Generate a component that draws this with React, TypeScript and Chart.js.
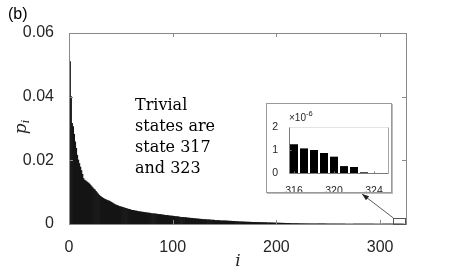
import React, { useEffect, useRef } from "react";
import { Chart, registerables } from "chart.js";
Chart.register(...registerables);

// p_i for states i = 1..323 (sorted)
const probabilities = [
  0.0510, 0.0400, 0.0316, 0.0306, 0.0282, 0.0258, 0.0238, 0.0216, 0.0201, 0.0190,
  0.0179, 0.0168, 0.0156, 0.0143, 0.0138, 0.0136, 0.0133, 0.0131, 0.0128, 0.0125,
  0.0121, 0.0117, 0.0114, 0.0110, 0.0107, 0.0103, 0.0099, 0.0095, 0.0091, 0.0088,
  0.0085, 0.0083, 0.0081, 0.0079, 0.0077, 0.0076, 0.0074, 0.0073, 0.0072, 0.0070,
  0.0068, 0.0066, 0.0064, 0.0062, 0.0060, 0.0059, 0.0058, 0.0056, 0.0055, 0.0054,
  0.0053, 0.0052, 0.0051, 0.0050, 0.0049, 0.0048, 0.0047, 0.0046, 0.0045, 0.0044,
  0.0043, 0.0043, 0.0042, 0.0041, 0.0041, 0.0040, 0.0039, 0.0039, 0.0038, 0.0038,
  0.0037, 0.0037, 0.0036, 0.0036, 0.0035, 0.0035, 0.0034, 0.0034, 0.0033, 0.0033,
  0.0032, 0.0032, 0.0032, 0.0031, 0.0031, 0.0030, 0.0030, 0.0030, 0.0029, 0.0029,
  0.0028, 0.0028, 0.0027, 0.0027, 0.0027, 0.0026, 0.0026, 0.0025, 0.0025, 0.0025,
  0.0024, 0.0024, 0.0023, 0.0023, 0.0023, 0.0022, 0.0022, 0.0021, 0.0021, 0.0021,
  0.0020, 0.0020, 0.0020, 0.0019, 0.0019, 0.0019, 0.0018, 0.0018, 0.0018, 0.0017,
  0.0017, 0.0017, 0.0016, 0.0016, 0.0016, 0.0015, 0.0015, 0.0015, 0.0014, 0.0014,
  0.0014, 0.0014, 0.0013, 0.0013, 0.0013, 0.0013, 0.0012, 0.0012, 0.0012, 0.0012,
  0.0011, 0.0011, 0.0011, 0.0011, 0.0011, 0.0010, 0.0010, 0.0010, 0.0010, 0.0010,
  0.00098, 0.00096, 0.00095, 0.00092, 0.00090, 0.00089, 0.00086, 0.00084, 0.00083, 0.00080,
  0.00078, 0.00077, 0.00074, 0.00072, 0.00071, 0.00069, 0.00068, 0.00066, 0.00064, 0.00063,
  0.00061, 0.00060, 0.00059, 0.00058, 0.00056, 0.00055, 0.00054, 0.00053, 0.00052, 0.00051,
  0.00050, 0.00049, 0.00048, 0.00047, 0.00046, 0.00045, 0.00044, 0.00043, 0.00042, 0.00041,
  0.00040, 0.00039, 0.00038, 0.00037, 0.00036, 0.00035, 0.00034, 0.00033, 0.00032, 0.00031,
  0.00030, 0.00029, 0.00028, 0.00027, 0.00026, 0.00025, 0.00024, 0.00023, 0.00022, 0.00021,
  0.00020, 0.00019, 0.00018, 0.00017, 0.00016, 0.00015, 0.00014, 0.00013, 0.00012, 0.00011,
  0.00010, 0.000095, 0.000091, 0.000085, 0.000080, 0.000076, 0.000070, 0.000066, 0.000062, 0.000058,
  0.000055, 0.000052, 0.000049, 0.000046, 0.000044, 0.000042, 0.000040, 0.000038, 0.000036, 0.000034,
  0.000032, 0.000030, 0.000029, 0.000028, 0.000026, 0.000025, 0.000024, 0.000023, 0.000022, 0.000021,
  0.000020, 0.000019, 0.000018, 0.000017, 0.000016, 0.000016, 0.000015, 0.000014, 0.000014, 0.000013,
  0.000013, 0.000012, 0.000012, 0.000011, 0.000011, 0.000010, 0.000010, 0.0000095, 0.0000090, 0.0000085,
  0.0000080, 0.0000076, 0.0000072, 0.0000068, 0.0000065, 0.0000062, 0.0000059, 0.0000056, 0.0000053, 0.0000050,
  0.0000048, 0.0000046, 0.0000044, 0.0000042, 0.0000040, 0.0000038, 0.0000036, 0.0000034, 0.0000033, 0.0000032,
  0.0000031, 0.0000030, 0.0000029, 0.0000028, 0.0000027, 0.0000026, 0.0000025, 0.0000024, 0.0000023, 0.0000022,
  0.0000021, 0.0000020, 0.0000019, 0.0000018, 0.0000017, 0.0000017, 0.0000016, 0.0000016, 0.0000015, 0.0000015,
  0.0000014, 0.0000014, 0.0000013, 0.0000013, 0.0000013,
  0.00000125, 0.00000107, 0.00000100, 0.00000087, 0.00000071, 0.00000030, 0.00000026, 0.00000003,
];
const stateIndex = probabilities.map((_, k) => k + 1);

const xTicks = [0, 100, 200, 300];
const yTicks = [0, 0.02, 0.04, 0.06];

// inset (values in units of 1e-6)
const insetStates = [316, 317, 318, 319, 320, 321, 322, 323];
const insetValues = [1.25, 1.07, 1.0, 0.87, 0.71, 0.3, 0.26, 0.03];
const insetXTicks = [316, 320, 324];
const insetYTicks = [0, 1, 2];

// zoom window marked on the main axes
const zoomBox = { x0: 312.5, x1: 324, y0: 0, y1: 0.002 };

const TICK_FONT = "'Liberation Sans', Arial, sans-serif";
const TICK_COLOR = "#262626";

const mainFrame = {
  id: "mainFrame",
  afterDraw(chart: any) {
    const { ctx, chartArea: a, scales } = chart;
    const x = scales.x, y = scales.y;
    ctx.save();
    ctx.lineWidth = 1;
    ctx.strokeStyle = "#8a8a8a";
    ctx.strokeRect(Math.round(a.left) + 0.5, Math.round(a.top) + 0.5, Math.round(a.right - a.left), Math.round(a.bottom - a.top));
    ctx.beginPath();
    for (const v of xTicks.slice(1)) {
      const px = Math.round(x.getPixelForValue(v)) + 0.5;
      ctx.moveTo(px, a.bottom); ctx.lineTo(px, a.bottom - 4);
      ctx.moveTo(px, a.top); ctx.lineTo(px, a.top + 4);
    }
    for (const v of yTicks.slice(1, -1)) {
      const py = Math.round(y.getPixelForValue(v)) + 0.5;
      ctx.moveTo(a.left, py); ctx.lineTo(a.left + 4, py);
      ctx.moveTo(a.right, py); ctx.lineTo(a.right - 4, py);
    }
    ctx.stroke();
    // zoom rectangle
    const rx0 = x.getPixelForValue(zoomBox.x0), rx1 = x.getPixelForValue(zoomBox.x1);
    const ry0 = y.getPixelForValue(zoomBox.y1), ry1 = y.getPixelForValue(zoomBox.y0);
    ctx.strokeStyle = "#555";
    ctx.strokeRect(Math.round(rx0) + 0.5, Math.round(ry0) + 0.5, Math.round(rx1 - rx0), Math.round(ry1 - ry0));
    // arrow to inset
    const sx = rx0 + 0.5, sy = ry0 + 0.5;
    const ex = 362, ey = 194;
    ctx.strokeStyle = "#333";
    ctx.lineWidth = 0.8;
    ctx.beginPath(); ctx.moveTo(sx, sy); ctx.lineTo(ex, ey); ctx.stroke();
    const ang = Math.atan2(ey - sy, ex - sx);
    const L = 7, W = 2.6;
    ctx.fillStyle = "#222";
    ctx.beginPath();
    ctx.moveTo(ex, ey);
    ctx.lineTo(ex - L * Math.cos(ang) + W * Math.sin(ang), ey - L * Math.sin(ang) - W * Math.cos(ang));
    ctx.lineTo(ex - L * Math.cos(ang) - W * Math.sin(ang), ey - L * Math.sin(ang) + W * Math.cos(ang));
    ctx.closePath(); ctx.fill();
    ctx.restore();
  },
};

const insetFrame = {
  id: "insetFrame",
  afterDraw(chart: any) {
    const { ctx, chartArea: a, scales } = chart;
    const x = scales.x, y = scales.y;
    ctx.save();
    ctx.lineWidth = 1;
    const L = Math.round(a.left) + 0.5, R = Math.round(a.right) - 0.5;
    const T = Math.round(a.top) + 0.5, B = Math.round(a.bottom) + 0.5;
    ctx.strokeStyle = "#e4e4e4";
    ctx.beginPath(); ctx.moveTo(L, T); ctx.lineTo(R, T); ctx.stroke();
    ctx.strokeStyle = "#a8a8a8";
    ctx.beginPath(); ctx.moveTo(R, T); ctx.lineTo(R, B); ctx.stroke();
    ctx.strokeStyle = "#7a7a7a";
    ctx.beginPath(); ctx.moveTo(L, T); ctx.lineTo(L, B); ctx.lineTo(R, B); ctx.stroke();
    ctx.beginPath();
    for (const v of insetXTicks) {
      const px = Math.round(x.getPixelForValue(v)) + 0.5;
      ctx.moveTo(px, B); ctx.lineTo(px, B - 2);
    }
    for (const v of insetYTicks.slice(1, -1)) {
      const py = Math.round(y.getPixelForValue(v)) + 0.5;
      ctx.moveTo(L, py); ctx.lineTo(L + 2, py);
    }
    ctx.stroke();
    // exponent label
    ctx.fillStyle = TICK_COLOR;
    ctx.textBaseline = "middle";
    ctx.textAlign = "left";
    ctx.font = `10px ${TICK_FONT}`;
    const base = "\u00d710";
    ctx.fillText(base, a.left, a.top - 9);
    const w = ctx.measureText(base).width;
    ctx.font = `7.5px ${TICK_FONT}`;
    ctx.fillText("-6", a.left + w, a.top - 13);
    ctx.restore();
  },
};

export default function App() {
  const mainRef = useRef<HTMLCanvasElement>(null);
  const insetRef = useRef<HTMLCanvasElement>(null);

  useEffect(() => {
    const main = new Chart(mainRef.current!, {
      type: "bar",
      data: {
        datasets: [
          {
            data: stateIndex.map((i, k) => ({ x: i, y: probabilities[k] })),
            backgroundColor: "#151515",
            borderWidth: 0,
            categoryPercentage: 1,
            barPercentage: 1,
          },
        ],
      },
      options: {
        animation: false,
        responsive: false,
        maintainAspectRatio: false,
        layout: { padding: { left: 0, right: 56, top: 33, bottom: 0 } },
        plugins: { legend: { display: false }, tooltip: { enabled: false } },
        scales: {
          x: {
            type: "linear",
            min: 0,
            max: 325,
            offset: false,
            grid: { display: false },
            border: { display: false },
            afterBuildTicks: (s: any) => { s.ticks = xTicks.map((v) => ({ value: v })); },
            ticks: {
              padding: 6,
              color: TICK_COLOR,
              font: { family: TICK_FONT, size: 16 },
              maxRotation: 0,
              autoSkip: false,
              callback: (v: any) => String(v),
            },
            afterFit: (s: any) => { s.height = 49; },
          },
          y: {
            min: 0,
            max: 0.06,
            grid: { display: false },
            border: { display: false },
            afterBuildTicks: (s: any) => { s.ticks = yTicks.map((v) => ({ value: v })); },
            ticks: {
              padding: 7,
              color: TICK_COLOR,
              font: { family: TICK_FONT, size: 16 },
              callback: (v: any) => (Number(v) === 0 ? "0" : Number(v).toFixed(2)),
            },
            afterFit: (s: any) => { s.width = 69; },
          },
        },
      },
      plugins: [mainFrame],
    } as any);

    const inset = new Chart(insetRef.current!, {
      type: "bar",
      data: {
        datasets: [
          {
            data: insetStates.map((s, k) => ({ x: s, y: insetValues[k] })),
            backgroundColor: "#000",
            borderWidth: 0,
            categoryPercentage: 1,
            barPercentage: 0.8,
          },
        ],
      },
      options: {
        animation: false,
        responsive: false,
        maintainAspectRatio: false,
        layout: { padding: { left: 0, right: 2, top: 23, bottom: 0 } },
        plugins: { legend: { display: false }, tooltip: { enabled: false } },
        scales: {
          x: {
            type: "linear",
            min: 315.5,
            max: 325.5,
            offset: false,
            grid: { display: false },
            border: { display: false },
            afterBuildTicks: (s: any) => { s.ticks = insetXTicks.map((v) => ({ value: v })); },
            ticks: {
              padding: 4,
              color: TICK_COLOR,
              font: { family: TICK_FONT, size: 10.5 },
              maxRotation: 0,
              autoSkip: false,
              callback: (v: any) => String(v),
            },
            afterFit: (s: any) => { s.height = 19; },
          },
          y: {
            min: 0,
            max: 2,
            grid: { display: false },
            border: { display: false },
            afterBuildTicks: (s: any) => { s.ticks = insetYTicks.map((v) => ({ value: v })); },
            ticks: {
              padding: 3,
              color: TICK_COLOR,
              font: { family: TICK_FONT, size: 10.5 },
              callback: (v: any) => String(v),
            },
            afterFit: (s: any) => { s.width = 22; },
          },
        },
      },
      plugins: [insetFrame],
    } as any);

    return () => {
      main.destroy();
      inset.destroy();
    };
  }, []);

  const serif = "'DejaVu Serif', 'Liberation Serif', serif";

  return (
    <div style={{ position: "absolute", left: 0, top: 0, width: 462, height: 273, background: "#fff", overflow: "hidden" }}>
      <canvas ref={mainRef} width={462} height={273} style={{ position: "absolute", left: 0, top: 0 }} />
      <div
        style={{
          position: "absolute", left: 8, top: 5, fontFamily: TICK_FONT, fontSize: 16, lineHeight: "18px", color: "#000",
        }}
      >
        (b)
      </div>
      <div
        style={{
          position: "absolute", left: 5, top: 116, width: 30, height: 22, lineHeight: "22px", textAlign: "center",
          transform: "rotate(-90deg)", fontFamily: serif, fontSize: 17, color: "#262626", whiteSpace: "nowrap",
        }}
      >
        <i>p</i>
        <i style={{ fontSize: 11, verticalAlign: -3 }}>i</i>
      </div>
      <div
        style={{
          position: "absolute", left: 228, top: 249, width: 20, height: 22, lineHeight: "22px", textAlign: "center",
          fontFamily: serif, fontStyle: "italic", fontSize: 17, color: "#262626",
        }}
      >
        i
      </div>
      <div
        style={{
          position: "absolute", left: 135, top: 94, fontFamily: serif, fontSize: 16, lineHeight: "21px", color: "#000",
          whiteSpace: "pre",
        }}
      >
        {"Trivial\nstates are\nstate 317\nand 323"}
      </div>
      <div
        style={{
          position: "absolute", left: 266, top: 103, width: 126, height: 90, boxSizing: "border-box",
          border: "1px solid #9a9a9a", boxShadow: "1px 1px 0 #bdbdbd", background: "#fff",
        }}
      >
        <canvas ref={insetRef} width={124} height={88} style={{ position: "absolute", left: 0, top: 0 }} />
      </div>
    </div>
  );
}
